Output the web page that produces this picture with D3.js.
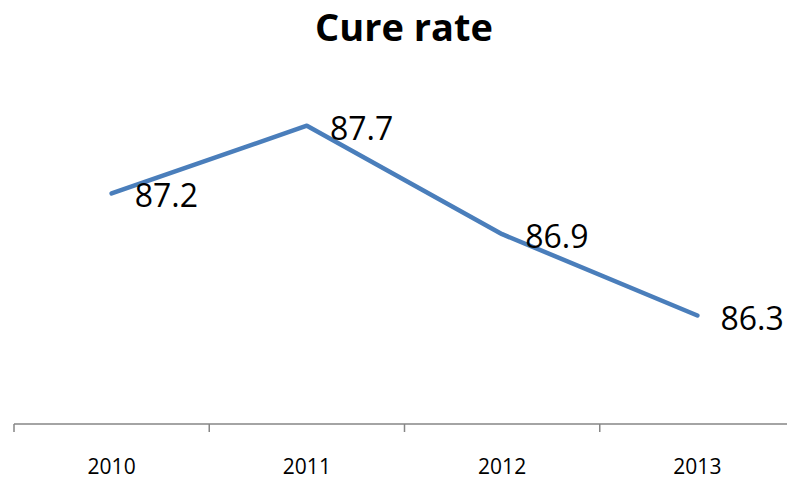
<!DOCTYPE html>
<html>
<head>
<meta charset="utf-8">
<script src="https://cdn.jsdelivr.net/npm/d3@7"></script>
<style>
  body { margin: 0; background: #fff; }
  svg { display: block; }
</style>
</head>
<body>
<div id="chart"></div>
<script>
// Cure rate by year
const years = ["2010", "2011", "2012", "2013"];
const cureRate = [87.2, 87.7, 86.9, 86.3];
const yDomain = [85.5, 88];

const width = 787;
const height = 480;

const svg = d3.select("#chart")
  .append("svg")
  .attr("width", width)
  .attr("height", height);

const x = d3.scaleBand()
  .domain(years)
  .range([14, 795]);

const y = d3.scaleLinear()
  .domain(yDomain)
  .range([424, 85]);

// Title
svg.append("text")
  .attr("x", 404)
  .attr("y", 41)
  .attr("text-anchor", "middle")
  .attr("font-family", "'Open Sans', sans-serif")
  .attr("font-weight", "bold")
  .attr("font-size", "38px")
  .attr("fill", "#000")
  .text("Cure rate");

// Category axis
const xAxis = svg.append("g")
  .attr("transform", `translate(0,${y(yDomain[0])})`);

xAxis.append("line")
  .attr("x1", x.range()[0])
  .attr("x2", x.range()[1])
  .attr("stroke", "#868686")
  .attr("stroke-width", 1.5);

const tickPos = years.map(d => x(d)).concat([x.range()[1]]);
xAxis.selectAll(".tick-mark")
  .data(tickPos)
  .enter()
  .append("line")
  .attr("class", "tick-mark")
  .attr("x1", d => d)
  .attr("x2", d => d)
  .attr("y1", 0)
  .attr("y2", 8)
  .attr("stroke", "#868686")
  .attr("stroke-width", 1.5);

xAxis.selectAll(".tick-label")
  .data(years)
  .enter()
  .append("text")
  .attr("class", "tick-label")
  .attr("x", d => x(d) + x.bandwidth() / 2)
  .attr("y", 50)
  .attr("text-anchor", "middle")
  .attr("font-family", "'Open Sans', sans-serif")
  .attr("font-size", "21px")
  .attr("fill", "#000")
  .text(d => d);

// Line
const points = years.map((d, i) => ({ year: d, value: cureRate[i] }));

const line = d3.line()
  .x(d => x(d.year) + x.bandwidth() / 2)
  .y(d => y(d.value));

svg.append("path")
  .datum(points)
  .attr("d", line)
  .attr("fill", "none")
  .attr("stroke", "#4a7ebb")
  .attr("stroke-width", 4.5)
  .attr("stroke-linejoin", "round")
  .attr("stroke-linecap", "round");

// Data labels
svg.selectAll(".data-label")
  .data(points)
  .enter()
  .append("text")
  .attr("class", "data-label")
  .attr("x", d => x(d.year) + x.bandwidth() / 2 + 23)
  .attr("y", d => y(d.value) + 14)
  .attr("font-family", "'Open Sans', sans-serif")
  .attr("font-size", "32px")
  .attr("fill", "#000")
  .text(d => d.value.toFixed(1));
</script>
</body>
</html>
